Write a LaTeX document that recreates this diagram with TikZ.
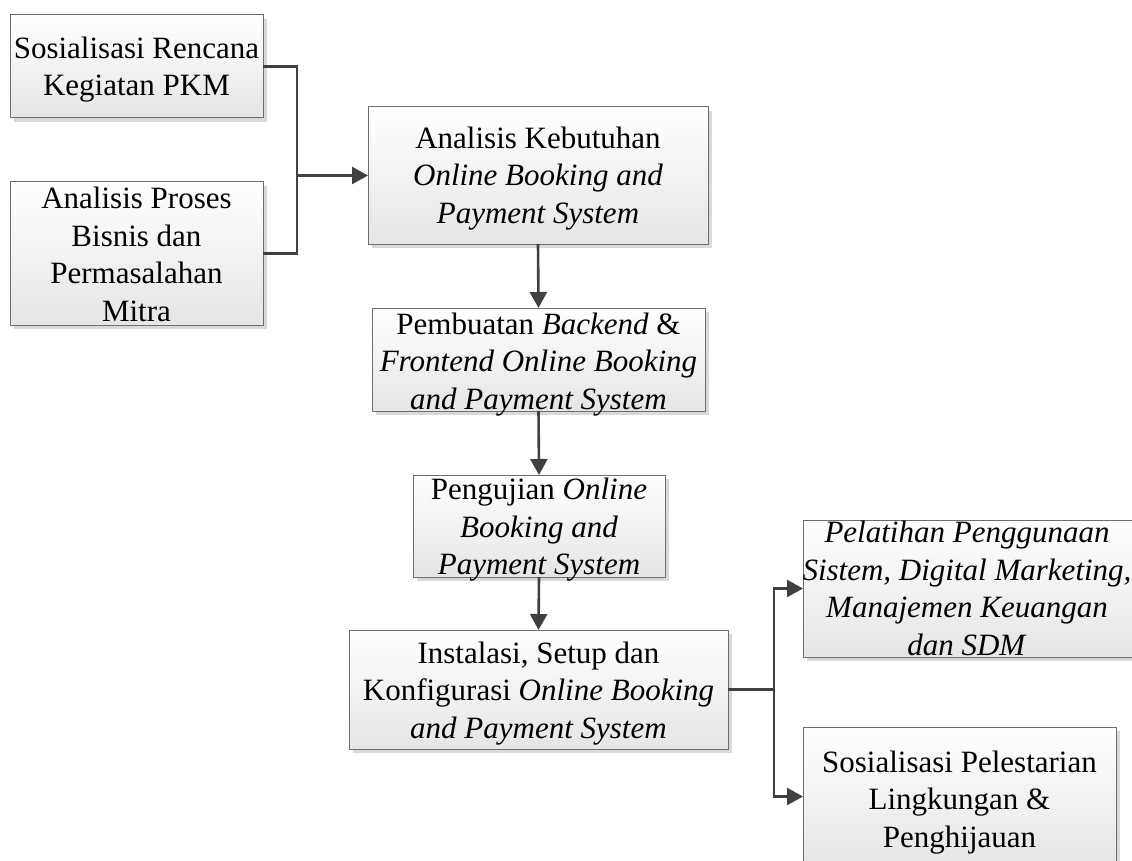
\documentclass[tikz,border=0pt]{standalone}
\usepackage{fontspec}
\setmainfont{Liberation Serif}
\usetikzlibrary{arrows.meta,shadows}
\definecolor{conncol}{HTML}{404040}
\definecolor{bordercol}{HTML}{6E6E6E}
\definecolor{shadowcol}{HTML}{D9D9D9}
\tikzset{
  boxnode/.style={rectangle, draw=bordercol, line width=1pt, top color=white, bottom color=black!10,
    inner sep=0pt, outer sep=0pt,
    general shadow={fill=shadowcol, shadow xshift=4pt, shadow yshift=-4pt}},
  txt/.style={align=center, inner sep=0pt, font=\fontsize{31}{37.5}\selectfont},
  conn/.style={draw=conncol, line width=2.6pt},
  arr/.style={conn, -{Triangle[length=16pt,width=17pt]}},
}
\newcommand{\mkbox}[5]{%
  \node[boxnode, minimum width={(#4-#2)*1pt}, minimum height={(#5-#3)*1pt}] (#1) at ({(#2+#4)/2},{(#3+#5)/2}) {};}
\begin{document}
\begin{tikzpicture}[x=1pt,y=-1pt]
\useasboundingbox (0,0) rectangle (1132,861);
\mkbox{b1}{10}{15}{263}{118}
\mkbox{b2}{10}{182}{263}{325}
\mkbox{b3}{368}{107}{708}{244}
\mkbox{b4}{372}{308}{705}{411}
\mkbox{b5}{413}{475}{665}{577}
\mkbox{b6}{349}{630}{728}{749}
\mkbox{b7}{803}{520}{1140}{657}
\mkbox{b8}{803}{727}{1116}{866}

\node[txt, yshift=-3pt] (t1) at (b1) {Sosialisasi Rencana\\Kegiatan PKM};
\node[txt, yshift=-1pt] (t2) at (b2) {Analisis Proses\\Bisnis dan\\Permasalahan\\Mitra};
\node[txt, yshift=-3pt] (t3) at (b3) {Analisis Kebutuhan\\\textit{Online Booking and}\\\textit{Payment System}};
\node[txt, yshift=-5pt] (t4) at (b4) {Pembuatan \textit{Backend} \&\\\textit{Frontend Online Booking}\\\textit{and Payment System}};
\node[txt, yshift=-4pt] (t5) at (b5) {Pengujian \textit{Online}\\\textit{Booking and}\\\textit{Payment System}};
\node[txt, yshift=-4pt] (t6) at (b6) {Instalasi, Setup dan\\Konfigurasi \textit{Online Booking}\\\textit{and Payment System}};
\node[txt] (t7) at (967,588.5) {\textit{Pelatihan Penggunaan}\\\textit{Sistem, Digital Marketing,}\\\textit{Manajemen Keuangan}\\\textit{dan SDM}};
\node[txt, yshift=-6pt] (t8) at (b8) {Sosialisasi Pelestarian\\Lingkungan \&\\Penghijauan};

\coordinate (j1) at (297,175.5);
\draw[conn] (b1.east) -| (j1) |- (b2.east);
\draw[arr] (j1) -- (b3.west);
\draw[arr] (b3.south) -- (b4.north);
\draw[arr] (b4.south) -- (b5.north);
\draw[arr] (b5.south) -- (b6.north);
\coordinate (j2) at (774,689.5);
\draw[conn] (b6.east) -- (j2);
\draw[arr] (j2) |- (b7.west);
\draw[arr] (j2) |- (b8.west);
\end{tikzpicture}
\end{document}
